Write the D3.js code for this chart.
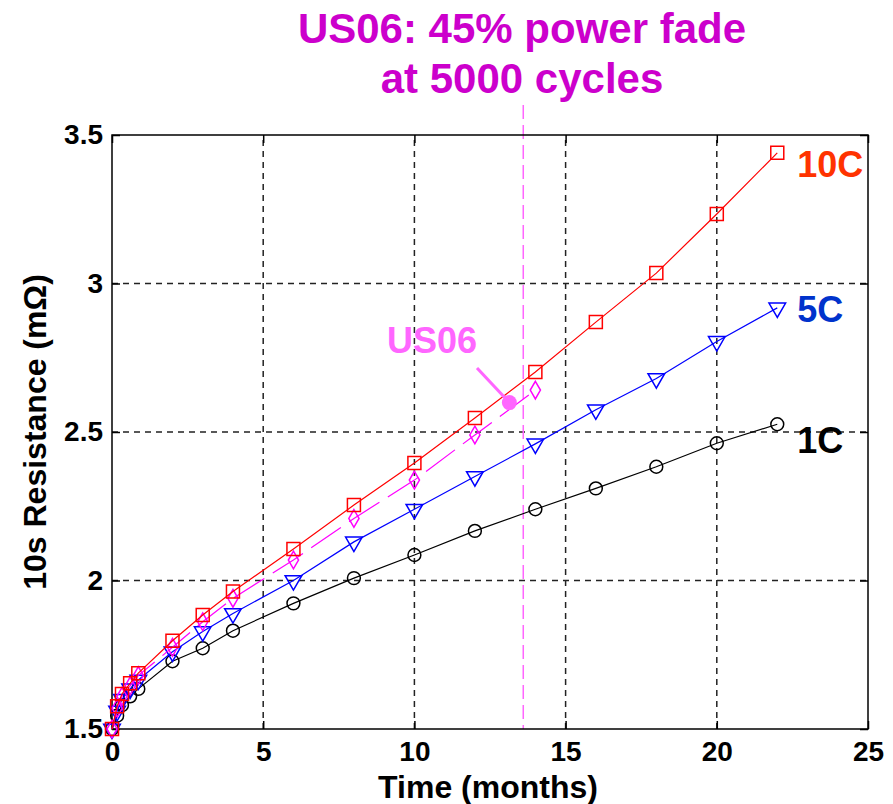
<!DOCTYPE html>
<html>
<head>
<meta charset="utf-8">
<script src="https://cdn.jsdelivr.net/npm/d3@7"></script>
<style>
  html, body { margin: 0; padding: 0; background: #fff; }
  svg { display: block; font-family: "Liberation Sans", Arial, sans-serif; }
</style>
</head>
<body>
<div id="chart"></div>
<script>
// data
const times = [0, 0.17, 0.33, 0.6, 0.87, 2, 3, 4, 6, 8, 10, 12, 14, 16, 18, 20, 22];
const r10C = [1.50, 1.577, 1.618, 1.654, 1.688, 1.797, 1.884, 1.963, 2.106, 2.254, 2.396, 2.547, 2.702, 2.87, 3.035, 3.234, 3.44];
const r5C = [1.50, 1.56, 1.60, 1.635, 1.665, 1.76, 1.828, 1.889, 2.0, 2.13, 2.24, 2.35, 2.46, 2.575, 2.68, 2.805, 2.918];
const r1C = [1.50, 1.545, 1.58, 1.61, 1.635, 1.728, 1.772, 1.831, 1.923, 2.008, 2.086, 2.167, 2.24, 2.31, 2.383, 2.462, 2.526];
const timesUS06 = [0, 0.17, 0.33, 0.6, 0.87, 2, 3, 4, 6, 8, 10, 12, 14];
const rUS06 = [1.50, 1.57, 1.61, 1.645, 1.68, 1.775, 1.861, 1.94, 2.069, 2.209, 2.338, 2.49, 2.641];
const xTicks = [0, 5, 10, 15, 20, 25];
const yTicks = [1.5, 2, 2.5, 3, 3.5];
const titleLines = ["US06: 45% power fade", "at 5000 cycles"];
const fadeTime = 13.6;          // vertical marker, months
const us06Point = [13.14, 2.599]; // annotation dot

const CFG = {
  width: 893, height: 804,
  margin: { top: 135, right: 25, bottom: 75, left: 112 },
  tickFont: 28, axisTitleFont: 32, labelFont: 36, titleFont: 42,
};

const svg = d3.select("#chart").append("svg")
  .attr("width", CFG.width).attr("height", CFG.height);

const x = d3.scaleLinear().domain([0, 25]).range([CFG.margin.left, CFG.width - CFG.margin.right]);
const y = d3.scaleLinear().domain([1.5, 3.5]).range([CFG.height - CFG.margin.bottom, CFG.margin.top]);
const [x0, x1] = x.range();
const [y0, y1] = y.range();

// grid
const grid = svg.append("g").attr("stroke", "#222").attr("stroke-width", 1.5).attr("stroke-dasharray", "6,5");
grid.selectAll("line.gx").data(xTicks.slice(1, -1)).join("line")
  .attr("x1", d => x(d)).attr("x2", d => x(d)).attr("y1", y0).attr("y2", y1);
grid.selectAll("line.gy").data(yTicks.slice(1, -1)).join("line")
  .attr("y1", d => y(d)).attr("y2", d => y(d)).attr("x1", x0).attr("x2", x1);

// US06 end-of-life marker
svg.append("line")
  .attr("x1", x(fadeTime)).attr("x2", x(fadeTime))
  .attr("y1", 105).attr("y2", y0)
  .attr("stroke", "#ff66ff").attr("stroke-width", 1.5).attr("stroke-dasharray", "14,6");

// axes (box with inside ticks)
const axisStyle = g => {
  g.select(".domain").remove();
  g.selectAll(".tick line").attr("stroke", "#000").attr("stroke-width", 1.5);
  g.selectAll(".tick text").attr("font-size", CFG.tickFont).attr("font-weight", "bold").attr("fill", "#000");
};
svg.append("g").attr("transform", `translate(0,${y0})`)
  .call(d3.axisBottom(x).tickValues(xTicks).tickSizeInner(-8).tickSizeOuter(0).tickPadding(12))
  .call(axisStyle);
svg.append("g").attr("transform", `translate(0,${y1})`)
  .call(d3.axisTop(x).tickValues(xTicks).tickSizeInner(-8).tickSizeOuter(0).tickFormat(""))
  .call(axisStyle);
svg.append("g").attr("transform", `translate(${x0},0)`)
  .call(d3.axisLeft(y).tickValues(yTicks).tickSizeInner(-8).tickSizeOuter(0).tickPadding(9).tickFormat(d3.format("~g")))
  .call(axisStyle);
svg.append("g").attr("transform", `translate(${x1},0)`)
  .call(d3.axisRight(y).tickValues(yTicks).tickSizeInner(-8).tickSizeOuter(0).tickFormat(""))
  .call(axisStyle);
svg.append("rect").attr("x", x0).attr("y", y1).attr("width", x1 - x0).attr("height", y0 - y1)
  .attr("fill", "none").attr("stroke", "#000").attr("stroke-width", 1.5);

// series
const series = [
  { name: "1C", t: times, r: r1C, color: "#000000", symbol: d3.symbolCircle, size: 130, rotate: 0, dash: null },
  { name: "5C", t: times, r: r5C, color: "#0000ff", symbol: d3.symbolTriangle, size: 120, rotate: 180, dash: null },
  { name: "US06", t: timesUS06, r: rUS06, color: "#ff00ff", symbol: d3.symbolDiamond, size: 90, rotate: 0, dash: "36,10" },
  { name: "10C", t: times, r: r10C, color: "#ff0000", symbol: d3.symbolSquare, size: 169, rotate: 0, dash: null },
];
const line = d3.line().x(d => x(d[0])).y(d => y(d[1]));
series.forEach(s => {
  const pts = s.t.map((t, i) => [t, s.r[i]]);
  svg.append("path").datum(pts)
    .attr("d", line).attr("fill", "none").attr("stroke", s.color).attr("stroke-width", 1.2)
    .attr("stroke-dasharray", s.dash);
  svg.append("g").selectAll("path").data(pts).join("path")
    .attr("d", d3.symbol(s.symbol, s.size))
    .attr("transform", d => `translate(${x(d[0])},${y(d[1])}) rotate(${s.rotate})`)
    .attr("fill", "none").attr("stroke", s.color).attr("stroke-width", 1.5);
});

// series labels
const labels = [
  { text: "10C", color: "#ff3300", at: 3.40 },
  { text: "5C", color: "#0033cc", at: 2.91 },
  { text: "1C", color: "#000000", at: 2.47 },
];
svg.append("g").selectAll("text").data(labels).join("text")
  .attr("x", x(22) + 20).attr("y", d => y(d.at) + 12)
  .attr("font-size", CFG.labelFont).attr("font-weight", "bold").attr("fill", d => d.color)
  .text(d => d.text);

// US06 annotation
svg.append("line")
  .attr("x1", 477).attr("y1", 368)
  .attr("x2", x(us06Point[0])).attr("y2", y(us06Point[1]))
  .attr("stroke", "#ff66ff").attr("stroke-width", 3);
svg.append("circle").attr("cx", x(us06Point[0])).attr("cy", y(us06Point[1])).attr("r", 7.5).attr("fill", "#ff66ff");
svg.append("text").attr("x", 432).attr("y", 353).attr("text-anchor", "middle")
  .attr("font-size", CFG.labelFont).attr("font-weight", "bold").attr("fill", "#ff66ff").text("US06");

// title
svg.append("g").selectAll("text").data(titleLines).join("text")
  .attr("x", 522).attr("y", (d, i) => 43 + i * 50).attr("text-anchor", "middle")
  .attr("font-size", CFG.titleFont).attr("font-weight", "bold").attr("fill", "#cc00cc")
  .text(d => d);

// axis titles
svg.append("text").attr("x", (x0 + x1) / 2 - 2).attr("y", 798).attr("text-anchor", "middle")
  .attr("font-size", CFG.axisTitleFont).attr("font-weight", "bold").text("Time (months)");
svg.append("text").attr("transform", `translate(46,${(y0 + y1) / 2}) rotate(-90)`).attr("text-anchor", "middle")
  .attr("font-size", CFG.axisTitleFont).attr("font-weight", "bold").text("10s Resistance (m\u03A9)");
</script>
</body>
</html>
